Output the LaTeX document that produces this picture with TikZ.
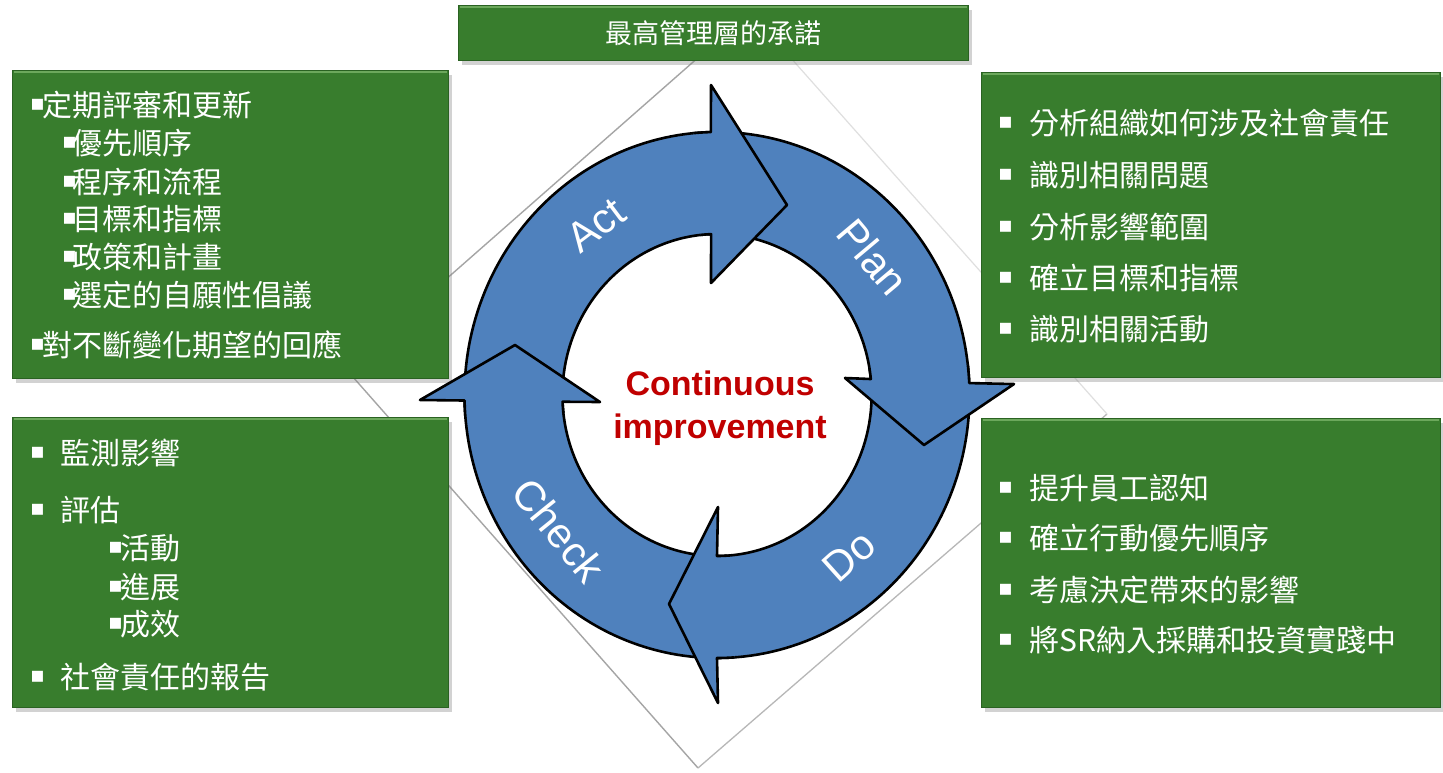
\documentclass[tikz,border=0pt]{standalone}
\usepackage{fontspec}
\setmainfont{Liberation Sans}
\newfontfamily\cjk{Noto Sans CJK TC}
\newfontfamily\dejavu{DejaVu Sans}
\usetikzlibrary{shadows}
\definecolor{boxgreen}{RGB}{56,125,45}
\definecolor{boxedge}{RGB}{42,98,34}
\definecolor{boxhi}{RGB}{108,168,92}
\definecolor{arrowblue}{RGB}{79,129,189}
\definecolor{cired}{RGB}{192,0,0}
\definecolor{diagray}{RGB}{165,165,165}
\newcommand{\bul}{\raisebox{6pt}{\dejavu\fontsize{22}{22}\selectfont ▪}}
\newcommand{\bodyarcs}[4]{%
  \draw[arrowline] plot[samples=60, domain=#1:#2] ({717+252.5*cos(\x)},{395-263*sin(\x)});
  \draw[arrowline] plot[samples=60, domain=#3:#4] ({717+154.6*cos(\x)},{395-161*sin(\x)});}
\newcommand{\headpiece}[7]{%
  \fill[arrowblue] plot[samples=10, domain=#1:#2] ({717+252.5*cos(\x)},{395-263*sin(\x)}) -- #3 -- #4 -- #5 -- plot[samples=10, domain=#6:#7] ({717+154.6*cos(\x)},{395-161*sin(\x)}) -- cycle;
  \draw[arrowline] plot[samples=10, domain=#1:#2] ({717+252.5*cos(\x)},{395-263*sin(\x)}) -- #3 -- #4 -- #5 -- plot[samples=10, domain=#6:#7] ({717+154.6*cos(\x)},{395-161*sin(\x)});}
\begin{document}
\begin{tikzpicture}[x=1pt,y=-1pt,
  greenbox/.style={draw=boxedge, fill=boxgreen, line width=1pt, inner sep=0pt, anchor=north west,
     drop shadow={shadow xshift=3pt, shadow yshift=-4pt, opacity=0.35}},
  boxtext/.style={text=white, inner sep=0pt, anchor=west, font=\cjk\fontsize{30}{30}\selectfont},
  arrowline/.style={draw=black, line width=2.6pt, line join=round},
  cyclabel/.style={text=white, inner sep=0pt, font=\fontsize{42}{42}\selectfont},
  diaedge/.style={draw=diagray, line width=1.4pt}]
\useasboundingbox (0,0) rectangle (1443,772);
\fill[white] (0,0) rectangle (1443,772);
% background square
\coordinate (dT) at (750,12);
\coordinate (dR) at (1107,414);
\coordinate (dB) at (698,768);
\coordinate (dL) at (345,368);
\fill[white] (dT) -- (dR) -- (dB) -- (dL) -- cycle;
\draw[diaedge] (dL) -- (dB);
\draw[draw=diagray!80, line width=1.3pt] (dB) -- (dR);
\draw[diaedge] (dT) -- (dL);
\draw[draw=gray!25, line width=1.2pt] (dT) -- (dR);
% boxes
\node[greenbox, minimum width=510pt, minimum height=55pt,
  font=\cjk\fontsize{27}{27}\selectfont, text=white] (top) at (458,5) {最高管理層的承諾};
\node[greenbox, minimum width=436pt, minimum height=308pt] (boxLT) at (12,70) {};
\node[greenbox, minimum width=436pt, minimum height=290pt] (boxLB) at (12,417) {};
\node[greenbox, minimum width=459pt, minimum height=305pt] (boxRT) at (981,72) {};
\node[greenbox, minimum width=459pt, minimum height=289pt] (boxRB) at (981,418) {};
\foreach \b in {top,boxLT,boxLB,boxRT,boxRB}{
  \draw[boxhi, line width=1.5pt] ([xshift=2pt,yshift=-1.8pt]\b.north west) -- ([xshift=-2pt,yshift=-1.8pt]\b.north east);}
% left top texts
\node[boxtext] (lt1) at (30,105) {\makebox[12pt][l]{\bul}定期評審和更新};
\node[boxtext] (lt2) at (62,143) {\makebox[10pt][l]{\bul}優先順序};
\node[boxtext] (lt3) at (62,182) {\makebox[10pt][l]{\bul}程序和流程};
\node[boxtext] (lt4) at (62,219) {\makebox[10pt][l]{\bul}目標和指標};
\node[boxtext] (lt5) at (62,257) {\makebox[10pt][l]{\bul}政策和計畫};
\node[boxtext] (lt6) at (62,295) {\makebox[10pt][l]{\bul}選定的自願性倡議};
\node[boxtext] (lt7) at (30,345) {\makebox[12pt][l]{\bul}對不斷變化期望的回應};
% left bottom texts
\node[boxtext] (lb1) at (30,453) {\makebox[30pt][l]{\bul}監測影響};
\node[boxtext] (lb2) at (30,510) {\makebox[30pt][l]{\bul}評估};
\node[boxtext] (lb3) at (108,548) {\makebox[12pt][l]{\bul}活動};
\node[boxtext] (lb4) at (108,587) {\makebox[12pt][l]{\bul}進展};
\node[boxtext] (lb5) at (108,624) {\makebox[12pt][l]{\bul}成效};
\node[boxtext] (lb6) at (30,677) {\makebox[30pt][l]{\bul}社會責任的報告};
% right top texts
\node[boxtext] (rt1) at (998,123) {\makebox[31pt][l]{\bul}分析組織如何涉及社會責任};
\node[boxtext] (rt2) at (998,175) {\makebox[31pt][l]{\bul}識別相關問題};
\node[boxtext] (rt3) at (998,227) {\makebox[31pt][l]{\bul}分析影響範圍};
\node[boxtext] (rt4) at (998,278) {\makebox[31pt][l]{\bul}確立目標和指標};
\node[boxtext] (rt5) at (998,329) {\makebox[31pt][l]{\bul}識別相關活動};
% right bottom texts
\node[boxtext] (rb1) at (998,488) {\makebox[31pt][l]{\bul}提升員工認知};
\node[boxtext] (rb2) at (998,538) {\makebox[31pt][l]{\bul}確立行動優先順序};
\node[boxtext] (rb3) at (998,590) {\makebox[31pt][l]{\bul}考慮決定帶來的影響};
\node[boxtext] (rb4) at (998,640) {\makebox[31pt][l]{\bul}將SR納入採購和投資實踐中};
% cycle arrows: fills
\fill[arrowblue] plot[samples=60, domain=181.2:91.4] ({717+252.5*cos(\x)},{395-263*sin(\x)}) -- (711,85) -- (787,205) -- (711,283) -- plot[samples=60, domain=92.2:182.4] ({717+154.6*cos(\x)},{395-161*sin(\x)}) -- cycle;
\fill[arrowblue] plot[samples=60, domain=91.4:2.6] ({717+252.5*cos(\x)},{395-263*sin(\x)}) -- (1014,384) -- (924,445) -- (845,378) -- plot[samples=60, domain=5.7:92.2] ({717+154.6*cos(\x)},{395-161*sin(\x)}) -- cycle;
\fill[arrowblue] plot[samples=60, domain=2.6:-90] ({717+252.5*cos(\x)},{395-263*sin(\x)}) -- (718,703) -- (669,604) -- (718,507) -- plot[samples=60, domain=-90:5.7] ({717+154.6*cos(\x)},{395-161*sin(\x)}) -- cycle;
\fill[arrowblue] plot[samples=60, domain=-90:-178.8] ({717+252.5*cos(\x)},{395-263*sin(\x)}) -- (420,400) -- (515,345) -- (600,402) -- plot[samples=60, domain=-177.6:-90] ({717+154.6*cos(\x)},{395-161*sin(\x)}) -- cycle;
% body outlines
\bodyarcs{181.2}{91.4}{92.2}{182.4}
\bodyarcs{91.4}{2.6}{5.7}{92.2}
\bodyarcs{2.6}{-90}{-90}{5.7}
\bodyarcs{-90}{-178.8}{-177.6}{-90}
% heads on top
\headpiece{95.4}{91.4}{(711,85)}{(787,205)}{(711,283)}{92.2}{96.2}
\headpiece{6.6}{2.6}{(1014,384)}{(924,445)}{(845,378)}{5.7}{9.7}
\headpiece{-86}{-90}{(718,703)}{(669,604)}{(718,507)}{-90}{-86}
\headpiece{-174.8}{-178.8}{(420,400)}{(515,345)}{(600,402)}{-177.6}{-173.6}
% labels
\node[cyclabel, rotate=37] (act) at (596,225) {Act};
\node[cyclabel, rotate=-50] (plan) at (873,257) {Plan};
\node[cyclabel, rotate=42] (do) at (849,556) {Do};
\node[cyclabel, rotate=-51] (check) at (559,530) {Check};
\node[text=cired, align=center, inner sep=0pt, font=\bfseries\fontsize{34}{43}\selectfont] (ci) at (720,408) {Continuous\\improvement};
\end{tikzpicture}
\end{document}
